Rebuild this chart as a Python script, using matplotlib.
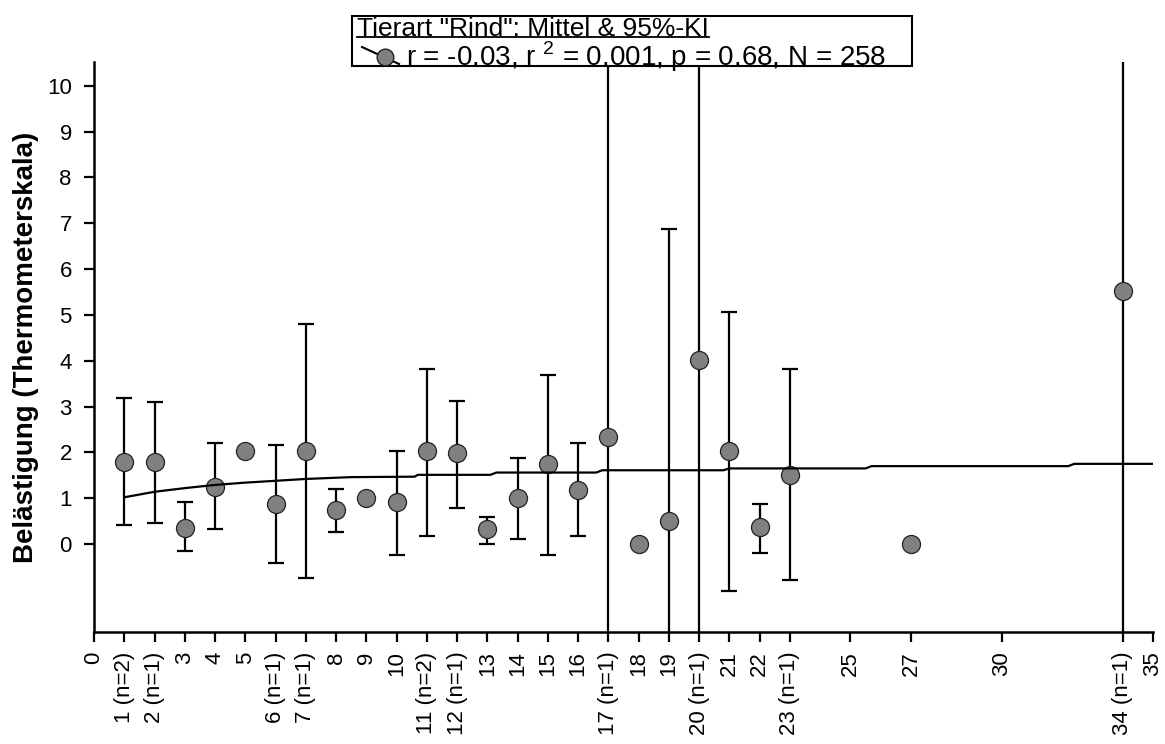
import numpy as np
import matplotlib
matplotlib.use("Agg")
import matplotlib.pyplot as plt
from matplotlib.lines import Line2D
from matplotlib.patches import Rectangle

plt.rcParams['font.family'] = ['Liberation Sans', 'DejaVu Sans']
plt.rcParams['mathtext.fontset'] = 'custom'
plt.rcParams['mathtext.rm'] = 'Liberation Sans'

# --- data ---
x_vals = [1, 2, 3, 4, 5, 6, 7, 8, 9, 10, 11, 12, 13, 14, 15, 16, 17, 18, 19, 20, 21, 22, 23, 27, 34]
means = [1.80, 1.80, 0.36, 1.25, 2.02, 0.87, 2.02, 0.74, 1.01, 0.92, 2.02, 1.98, 0.32,
         1.01, 1.75, 1.19, 2.34, 0.00, 0.50, 4.01, 2.02, 0.37, 1.51, 0.00, 5.53]
# CI bounds; nan = no interval, +-20 = outside the visible axis range
ci_lo = [0.41, 0.45, -0.15, 0.32, np.nan, -0.42, -0.75, 0.27, np.nan, -0.24, 0.18, 0.78, -0.01,
         0.12, -0.24, 0.17, -20, np.nan, -20, -20, -1.03, -0.20, -0.79, np.nan, -20]
ci_hi = [3.18, 3.09, 0.92, 2.21, np.nan, 2.16, 4.80, 1.20, np.nan, 2.03, 3.82, 3.13, 0.59,
         1.88, 3.69, 2.21, 20, np.nan, 6.87, 20, 5.07, 0.87, 3.82, np.nan, 20]

# fitted curve (as drawn)
reg_x = [1, 2, 3, 4, 5, 6, 7, 8.5, 10.6, 10.7, 13.1, 13.3, 16.6, 16.8, 20.8, 21.0,
         25.5, 25.7, 32.2, 32.4, 35]
reg_y = [1.02, 1.14, 1.22, 1.29, 1.34, 1.38, 1.42, 1.46, 1.47, 1.51, 1.51, 1.56, 1.56,
         1.61, 1.61, 1.65, 1.65, 1.70, 1.70, 1.75, 1.75]

tick_pos = list(range(0, 24)) + [25, 27, 30, 34, 35]
tick_lab = ["0", "1 (n=2)", "2 (n=1)", "3", "4", "5", "6 (n=1)", "7 (n=1)", "8", "9", "10",
            "11 (n=2)", "12 (n=1)", "13", "14", "15", "16", "17 (n=1)", "18", "19", "20 (n=1)",
            "21", "22", "23 (n=1)", "25", "27", "30", "34 (n=1)", "35"]

legend_title = 'Tierart "Rind": Mittel & 95%-KI'
legend_text = 'r = -0.03, r $^2$ = 0.001, p = 0.68, N = 258'

# --- plot ---
fig = plt.figure(figsize=(11.65, 7.44), dpi=100)
ax = fig.add_axes([94 / 1165, 1 - 632 / 744, 1059 / 1165, 570 / 744])

m = np.array(means)
lo = m - np.array(ci_lo)
hi = np.array(ci_hi) - m
ax.errorbar(x_vals, m, yerr=[lo, hi], fmt='none', ecolor='black', elinewidth=1.6,
            capsize=6, capthick=1.6, zorder=2)
ax.plot(x_vals, means, 'o', color='#808080', markeredgecolor='#222222',
        markeredgewidth=0.9, markersize=13, zorder=3)
ax.plot(reg_x, reg_y, color='black', linewidth=1.6, zorder=4)

ax.set_xlim(0, 35)
ax.set_ylim(-1.92, 10.52)
ax.set_yticks(range(0, 11))
ax.set_xticks(tick_pos)
ax.set_xticklabels(tick_lab, rotation=90)
ax.tick_params(axis='both', labelsize=16, width=1.6, length=7, direction='out', color='black')
ax.tick_params(axis='x', pad=7)
ax.tick_params(axis='y', pad=9)
for s in ['top', 'right']:
    ax.spines[s].set_visible(False)
for s in ['left', 'bottom']:
    ax.spines[s].set_linewidth(1.8)
ax.set_ylabel('Belästigung (Thermometerskala)', fontsize=20, fontweight='bold', labelpad=6)

# --- legend box (drawn by hand, title underlined) ---
W, H = 1165, 744
fig.patches.append(Rectangle((352 / W, 1 - 66 / H), 560 / W, 50 / H, transform=fig.transFigure,
                             facecolor='white', edgecolor='black', linewidth=1.5, zorder=10))
t = fig.text(357 / W, 1 - 28.5 / H, legend_title, fontsize=19, va='center', ha='left', zorder=11)
fig.text(406 / W, 1 - 57 / H, legend_text, fontsize=20, va='center', ha='left', zorder=11)
fig.lines.append(Line2D([362 / W, 399 / W], [1 - 47 / H, 1 - 64 / H], transform=fig.transFigure,
                        color='black', linewidth=1.5, zorder=11))
fig.lines.append(Line2D([385 / W], [1 - 57 / H], transform=fig.transFigure, marker='o',
                        color='#808080', markeredgecolor='#222222', markersize=12, zorder=12))

fig.canvas.draw()
bb = t.get_window_extent().transformed(fig.transFigure.inverted())
fig.lines.append(Line2D([bb.x0, bb.x1], [bb.y0 + 3 / H, bb.y0 + 3 / H], transform=fig.transFigure,
                        color='black', linewidth=1.3, zorder=11))

fig.savefig('out.png', dpi=100)
